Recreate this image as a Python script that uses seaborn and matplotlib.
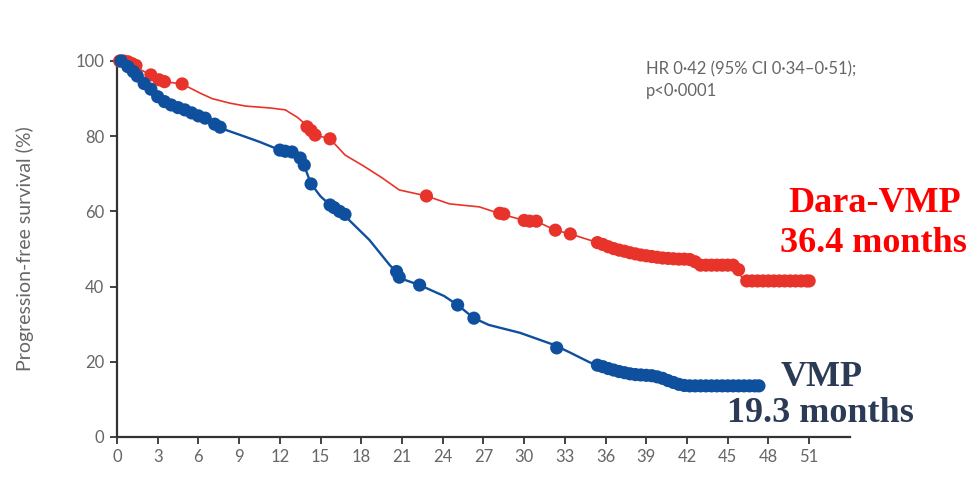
import numpy as np
import pandas as pd
import matplotlib
matplotlib.use("Agg")
import matplotlib.pyplot as plt
import seaborn as sns

# Kaplan-Meier curves (months, % progression-free)
red_t = [0, 1, 2.5, 3.5, 4.8, 6.1, 7, 8.3, 9.5, 11.3, 12.4, 13.3, 14.2, 14.6, 15.7, 16.8, 18.2,
         19.5, 20.8, 22.8, 24.5, 26.7, 28.3, 30.2, 31, 32.3, 33.4, 34.8, 35.5, 37, 38.5, 40, 42.2,
         42.9, 45.1, 45.8, 46.2, 51]
red_s = [100, 99, 96.3, 94.5, 93.9, 91.5, 90, 88.8, 88, 87.5, 87, 85, 82.2, 80.3, 79.3, 75, 72,
         69, 65.7, 64.1, 62, 61.2, 59.3, 57.4, 57.2, 55, 54, 52.4, 51.6, 49.7, 48.4, 47.6, 47.3,
         45.7, 45.7, 43.9, 41.5, 41.5]

blue_t = [0, 1, 1.7, 2.4, 2.9, 3.9, 4.6, 5.7, 6.5, 7.2, 7.6, 9.1, 10.5, 11.6, 12, 12.9, 13.5,
          13.8, 14.3, 15.0, 15.7, 16.4, 16.8, 17.1, 18.6, 20.1, 20.6, 20.8, 22.3, 24.1, 25.1,
          26.3, 27.4, 29.7, 32.2, 33.3, 34.8, 35.5, 37, 38.5, 40, 40.7, 41.8, 47.3]
blue_s = [100, 97.6, 95, 92.3, 90.2, 88.3, 87.5, 85.9, 84.8, 83.2, 82.2, 80.3, 78.5, 76.9, 76.3,
          75.8, 74.2, 72.1, 67.3, 64, 61.7, 59.8, 59, 57.7, 52.4, 45.7, 43.9, 42.3, 40.4, 37.5,
          35.1, 31.6, 29.8, 27.7, 24.5, 22.6, 19.9, 18.9, 17.3, 16.5, 15.7, 14.4, 13.6, 13.6]

# censor marks
red_cens_t = [0.2, 0.5, 0.8, 1.1, 1.4, 2.5, 3.1, 3.5, 4.8, 14.0, 14.3, 14.6, 15.7, 22.8, 28.2,
              28.5, 30.0, 30.4, 30.9, 32.3, 33.4, 35.4, 35.8, 36.2, 36.6, 37.0, 37.4, 37.8, 38.2,
              38.6, 39.0, 39.4, 39.8, 40.2, 40.6, 41.0, 41.4, 41.8, 42.2, 42.6, 43.0, 43.4, 43.8,
              44.2, 44.6, 45.0, 45.4, 45.8, 46.4, 46.8, 47.2, 47.6, 48.0, 48.4, 48.8, 49.2, 49.6,
              50.0, 50.4, 50.8, 51.0]
red_cens_s = [100, 100, 99.8, 99.3, 98.8, 96.3, 95, 94.5, 93.9, 82.5, 81.5, 80.3, 79.3, 64.1,
              59.5, 59.3, 57.6, 57.4, 57.4, 55, 54, 51.7, 51.2, 50.6, 50.1, 49.7, 49.4, 49.0, 48.7,
              48.4, 48.2, 48.0, 47.8, 47.6, 47.5, 47.4, 47.3, 47.3, 47.2, 46.6, 45.7, 45.7, 45.7,
              45.7, 45.7, 45.7, 45.7, 44.5, 41.5, 41.5, 41.5, 41.5, 41.5, 41.5, 41.5, 41.5, 41.5,
              41.5, 41.5, 41.5, 41.5]

blue_cens_t = [0.3, 0.8, 1.2, 1.5, 2.0, 2.5, 3.0, 3.5, 4.0, 4.5, 5.0, 5.5, 6.0, 6.5, 7.2, 7.6,
               12.0, 12.4, 12.9, 13.5, 13.8, 14.3, 15.7, 16.0, 16.4, 16.8, 20.6, 20.8, 22.3, 25.1,
               26.3, 32.4, 35.4, 35.8, 36.2, 36.6, 37.0, 37.4, 37.8, 38.2, 38.6, 39.0, 39.4, 39.8,
               40.2, 40.6, 41.0, 41.4, 41.8, 42.2, 42.6, 43.0, 43.4, 43.8, 44.2, 44.6, 45.0, 45.4,
               45.8, 46.2, 46.6, 47.0, 47.3]
blue_cens_s = [100, 98.5, 97.2, 96, 94, 92.5, 90.5, 89.2, 88.3, 87.6, 87.0, 86.2, 85.4, 84.8,
               83.2, 82.4, 76.3, 76.0, 75.8, 74.2, 72.3, 67.3, 61.7, 61, 60, 59.2, 44, 42.5, 40.4,
               35.1, 31.6, 23.7, 19.1, 18.7, 18.2, 17.8, 17.4, 17.1, 16.8, 16.6, 16.5, 16.4, 16.3,
               16.0, 15.6, 15.0, 14.5, 14.0, 13.7, 13.6, 13.6, 13.6, 13.6, 13.6, 13.6, 13.6, 13.6,
               13.6, 13.6, 13.6, 13.6, 13.6, 13.6]

x_ticks = list(range(0, 52, 3))
y_ticks = [0, 20, 40, 60, 80, 100]

RED = "#E8332B"
BLUE = "#0E4F9E"

sns.set_style("ticks")
plt.rcParams['font.family'] = ['Lato', 'DejaVu Sans']

fig = plt.figure(figsize=(9.78, 4.78), dpi=100)
ax = fig.add_axes([0.1196, 0.0858, 0.7494, 0.7866])

curves = pd.concat([
    pd.DataFrame({"month": red_t, "pfs": red_s, "arm": "Dara-VMP"}),
    pd.DataFrame({"month": blue_t, "pfs": blue_s, "arm": "VMP"}),
])
cens = pd.concat([
    pd.DataFrame({"month": red_cens_t, "pfs": red_cens_s, "arm": "Dara-VMP"}),
    pd.DataFrame({"month": blue_cens_t, "pfs": blue_cens_s, "arm": "VMP"}),
])

sns.lineplot(data=curves[curves.arm == "Dara-VMP"], x="month", y="pfs", color=RED,
             linewidth=1.2, ax=ax, legend=False, estimator=None, sort=False)
sns.lineplot(data=curves[curves.arm == "VMP"], x="month", y="pfs", color=BLUE,
             linewidth=1.7, ax=ax, legend=False, estimator=None, sort=False)
sns.scatterplot(data=cens, x="month", y="pfs", hue="arm", palette={"Dara-VMP": RED, "VMP": BLUE},
                s=90, linewidth=0, ax=ax, legend=False, clip_on=False, zorder=3)

ax.set_xlim(0, 54)
ax.set_ylim(0, 100)
ax.set_xticks(x_ticks)
ax.set_yticks(y_ticks)
ax.set_xlabel("")
ax.set_ylabel("Progression-free survival (%)", color="#666666", fontsize=14, labelpad=30)
sns.despine(ax=ax)
for sp in ["left", "bottom"]:
    ax.spines[sp].set_color("#333333")
    ax.spines[sp].set_linewidth(1.6)
ax.tick_params(axis="both", colors="#333333", labelcolor="#666666", labelsize=12,
               length=5, width=1.3)
ax.tick_params(axis="y", pad=4)

ax.text(0.722, 1.0, "HR 0·42 (95% CI 0·34–0·51);\np<0·0001", transform=ax.transAxes,
        fontsize=12, color="#666666", va="top", ha="left", linespacing=1.45)

serif = ['Liberation Serif', 'DejaVu Serif']
fig.text(875 / 978, 1 - 203 / 478, "Dara-VMP", color="#FF0000", fontsize=26, fontweight="bold",
         family=serif, ha="center", va="center")
fig.text(873 / 978, 1 - 244 / 478, "36.4 months", color="#FF0000", fontsize=26, fontweight="bold",
         family=serif, ha="center", va="center")
fig.text(822 / 978, 1 - 377 / 478, "VMP", color="#2B3A55", fontsize=26, fontweight="bold",
         family=serif, ha="center", va="center")
fig.text(820 / 978, 1 - 414 / 478, "19.3 months", color="#2B3A55", fontsize=26, fontweight="bold",
         family=serif, ha="center", va="center")

fig.savefig("out.png", dpi=100)
